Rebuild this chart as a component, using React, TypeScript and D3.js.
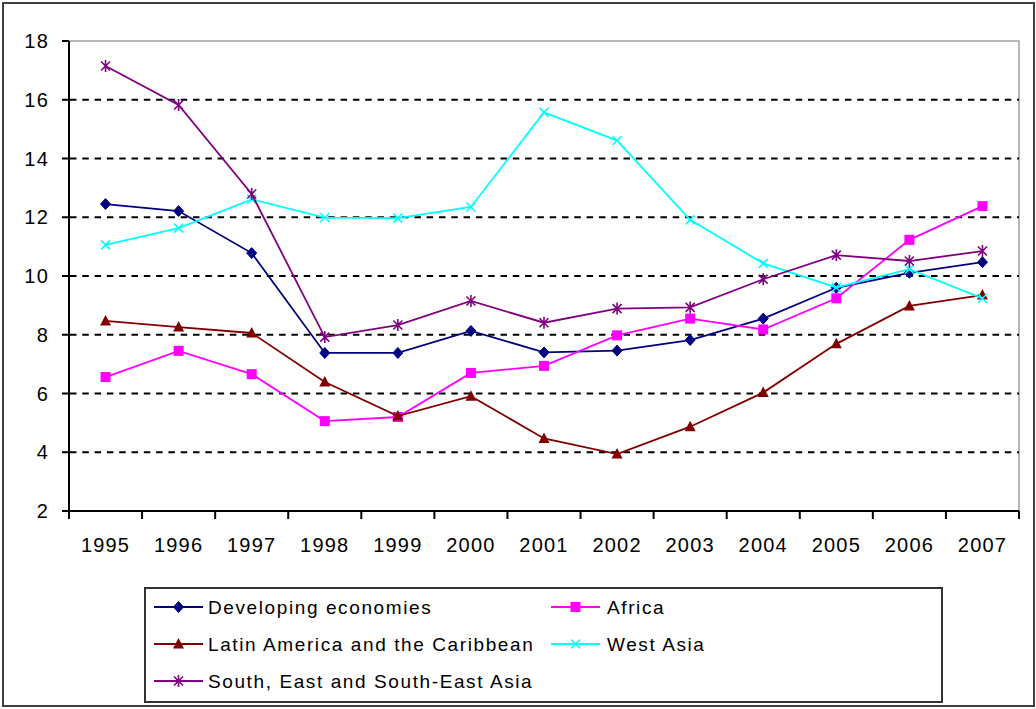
import React from 'react';
import * as d3 from 'd3';

const years = ['1995','1996','1997','1998','1999','2000','2001','2002','2003','2004','2005','2006','2007'];
const developing = [12.45, 12.21, 10.78, 7.38, 7.38, 8.13, 7.40, 7.46, 7.82, 8.55, 9.60, 10.11, 10.47];
const africa = [6.56, 7.45, 6.66, 5.06, 5.2, 6.7, 6.94, 7.98, 8.55, 8.18, 9.24, 11.23, 12.38];
const latin = [8.47, 8.26, 8.06, 6.39, 5.23, 5.91, 4.47, 3.94, 4.87, 6.03, 7.69, 8.98, 9.35];
const westAsia = [11.06, 11.63, 12.61, 11.99, 11.97, 12.35, 15.57, 14.61, 11.91, 10.43, 9.61, 10.23, 9.24];
const seAsia = [17.15, 15.82, 12.79, 7.92, 8.33, 9.15, 8.41, 8.89, 8.93, 9.89, 10.71, 10.51, 10.85];
const yTicks = [2, 4, 6, 8, 10, 12, 14, 16, 18];

type MarkerKind = 'diamond' | 'square' | 'triangle' | 'x' | 'star';

const series: { name: string; values: number[]; color: string; marker: MarkerKind }[] = [
  { name: 'Developing economies', values: developing, color: '#000080', marker: 'diamond' },
  { name: 'Africa', values: africa, color: '#FF00FF', marker: 'square' },
  { name: 'Latin America and the Caribbean', values: latin, color: '#800000', marker: 'triangle' },
  { name: 'West Asia', values: westAsia, color: '#00FFFF', marker: 'x' },
  { name: 'South, East and South-East Asia', values: seAsia, color: '#800080', marker: 'star' },
];

const W = 1036, H = 709;
const plotLeft = 69, plotRight = 1019, plotTop = 41, plotBottom = 511;
const font = '"Liberation Sans", Arial, sans-serif';

function Marker({ kind, x, y, color }: { kind: MarkerKind; x: number; y: number; color: string }) {
  const s = 5;
  switch (kind) {
    case 'diamond':
      return <path d={`M${x},${y - 5.5} L${x + 5},${y} L${x},${y + 5.5} L${x - 5},${y} Z`} fill={color} stroke={color} strokeWidth={1} />;
    case 'square':
      return <rect x={x - s} y={y - s} width={2 * s} height={2 * s} fill={color} />;
    case 'triangle':
      return <path d={`M${x},${y - 6} L${x + 5.5},${y + 4.5} L${x - 5.5},${y + 4.5} Z`} fill={color} />;
    case 'x':
      return <path d={`M${x - 4.5},${y - 4.5} L${x + 4.5},${y + 4.5} M${x + 4.5},${y - 4.5} L${x - 4.5},${y + 4.5}`} stroke={color} strokeWidth={1.5} fill="none" />;
    case 'star':
      return <path d={`M${x - 4.5},${y - 4.5} L${x + 4.5},${y + 4.5} M${x + 4.5},${y - 4.5} L${x - 4.5},${y + 4.5} M${x},${y - 6} L${x},${y + 6}`} stroke={color} strokeWidth={1.6} fill="none" />;
  }
}

export default function App() {
  const x = d3.scaleBand<string>().domain(years).range([plotLeft, plotRight]);
  const y = d3.scaleLinear().domain([2, 18]).range([plotBottom, plotTop]);
  const cx = (yr: string) => (x(yr) ?? 0) + x.bandwidth() / 2;
  const line = d3.line<number>().x((_, i) => cx(years[i])).y((v) => y(v));
  const boundaries = years.map((yr) => x(yr) ?? 0).concat([plotRight]);

  const legendRows = [
    { s: series[0], lx: 154, tx: 208, ly: 607 },
    { s: series[1], lx: 551, tx: 607, ly: 607 },
    { s: series[2], lx: 154, tx: 208, ly: 644 },
    { s: series[3], lx: 551, tx: 607, ly: 644 },
    { s: series[4], lx: 154, tx: 208, ly: 681 },
  ];

  return (
    <svg width={W} height={H} style={{ position: 'fixed', left: 0, top: 0, background: '#fff' }} fontFamily={font}>
      <rect x={0} y={0} width={W} height={H} fill="#fff" />
      <rect x={3} y={3} width={1031} height={703} fill="none" stroke="#404040" strokeWidth={2} />
      {/* plot area border (top/right gray) */}
      <path d={`M${plotLeft},${plotTop} L${plotRight},${plotTop} L${plotRight},${plotBottom}`} fill="none" stroke="#a0a0a0" strokeWidth={1.5} />
      {/* gridlines */}
      {yTicks.filter((t) => t > 2 && t < 18).map((t) => (
        <line key={t} x1={plotLeft + 1} x2={plotRight} y1={y(t)} y2={y(t)} stroke="#000" strokeWidth={2} strokeDasharray="6.5,5.8" />
      ))}
      {/* axes */}
      <line x1={plotLeft} x2={plotLeft} y1={plotTop} y2={plotBottom} stroke="#000" strokeWidth={2} />
      <line x1={plotLeft} x2={plotRight} y1={plotBottom} y2={plotBottom} stroke="#000" strokeWidth={2} />
      {yTicks.map((t) => (
        <g key={t}>
          <line x1={plotLeft - 7} x2={plotLeft} y1={y(t)} y2={y(t)} stroke="#000" strokeWidth={2} />
          <text x={49} y={y(t)} dy="0.36em" textAnchor="end" fontSize={20} letterSpacing={1.2} fill="#000">{t}</text>
        </g>
      ))}
      {boundaries.map((b, i) => (
        <line key={i} x1={b} x2={b} y1={plotBottom} y2={plotBottom + 8} stroke="#000" strokeWidth={2} />
      ))}
      {years.map((yr) => (
        <text key={yr} x={cx(yr)} y={552} textAnchor="middle" fontSize={20} letterSpacing={1.2} fill="#000">{yr}</text>
      ))}
      {/* series */}
      {series.map((s) => (
        <g key={s.name}>
          <path d={line(s.values) ?? ''} fill="none" stroke={s.color} strokeWidth={1.8} />
          {s.values.map((v, i) => (
            <Marker key={i} kind={s.marker} x={cx(years[i])} y={y(v)} color={s.color} />
          ))}
        </g>
      ))}
      {/* legend */}
      <rect x={145} y={588} width={797} height={114} fill="#fff" stroke="#333" strokeWidth={2} />
      {legendRows.map(({ s, lx, tx, ly }) => (
        <g key={s.name}>
          <line x1={lx} x2={lx + 49} y1={ly} y2={ly} stroke={s.color} strokeWidth={1.8} />
          <Marker kind={s.marker} x={lx + 24.5} y={ly} color={s.color} />
          <text x={tx} y={ly} dy="0.36em" fontSize={19} letterSpacing={1.6} fill="#000">{s.name}</text>
        </g>
      ))}
    </svg>
  );
}
